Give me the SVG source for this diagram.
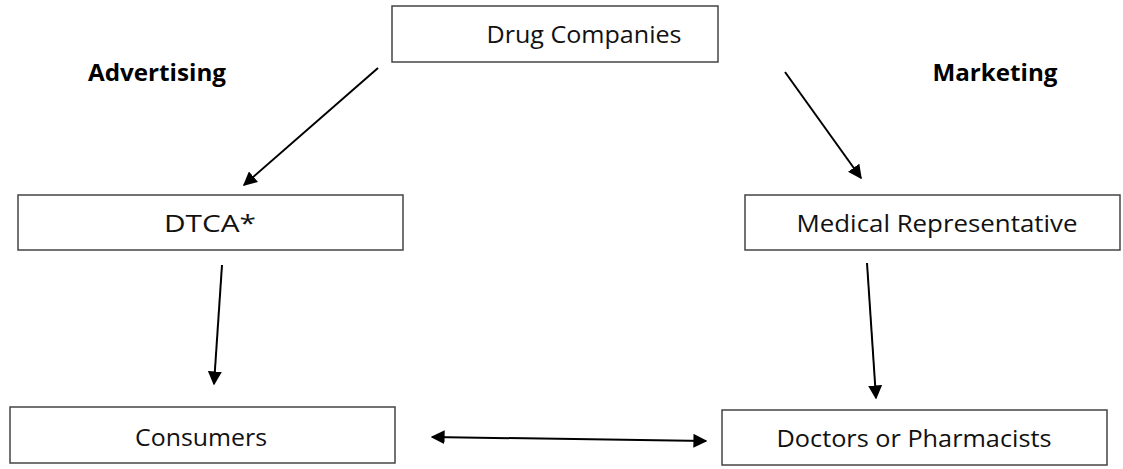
<svg xmlns="http://www.w3.org/2000/svg" width="1123" height="469" viewBox="0 0 1123 469">
<defs>
<style>
.box{fill:#fff;stroke:#444;stroke-width:1.5}
.t{font-family:"Open Sans","Liberation Sans",sans-serif;font-size:24px;fill:#111;text-anchor:middle;dominant-baseline:central}
.b{font-family:"Open Sans","Liberation Sans",sans-serif;font-size:23px;font-weight:bold;fill:#000;text-anchor:middle;dominant-baseline:central}
.c{stroke:#000;stroke-width:2;fill:none}
</style>
<marker id="ah" viewBox="0 0 10 10" refX="9" refY="5" markerWidth="7" markerHeight="7" orient="auto-start-reverse" markerUnits="strokeWidth">
<path d="M0,0 L10,5 L0,10 z" fill="#000"/>
</marker>
</defs>
<rect width="1123" height="469" fill="#fff"/>
<text class="b" x="157" y="72" textLength="138" lengthAdjust="spacingAndGlyphs">Advertising</text>
<text class="b" x="995" y="72" textLength="125" lengthAdjust="spacingAndGlyphs">Marketing</text>
<g id="drug"><rect class="box" x="392" y="6" width="326" height="56"/><text class="t" x="584" y="33" textLength="195" lengthAdjust="spacingAndGlyphs">Drug Companies</text></g>
<g id="dtca"><rect class="box" x="18" y="195" width="385" height="55"/><text class="t" x="210" y="222" textLength="92" lengthAdjust="spacingAndGlyphs">DTCA*</text></g>
<g id="medrep"><rect class="box" x="745" y="195" width="375" height="55"/><text class="t" x="937" y="222" textLength="281" lengthAdjust="spacingAndGlyphs">Medical Representative</text></g>
<g id="consumers"><rect class="box" x="10" y="407" width="385" height="56"/><text class="t" x="201" y="436" textLength="132" lengthAdjust="spacingAndGlyphs">Consumers</text></g>
<g id="doctors"><rect class="box" x="722" y="410" width="385" height="55"/><text class="t" x="914" y="437" textLength="275" lengthAdjust="spacingAndGlyphs">Doctors or Pharmacists</text></g>
<g id="connectors">
<line class="c" x1="378" y1="68" x2="244" y2="185" marker-end="url(#ah)"/>
<line class="c" x1="785" y1="72" x2="861" y2="178" marker-end="url(#ah)"/>
<line class="c" x1="222" y1="265" x2="214" y2="384" marker-end="url(#ah)"/>
<line class="c" x1="867" y1="263" x2="876" y2="398" marker-end="url(#ah)"/>
<line class="c" x1="432" y1="437" x2="706" y2="441" marker-start="url(#ah)" marker-end="url(#ah)"/>
</g>
</svg>
